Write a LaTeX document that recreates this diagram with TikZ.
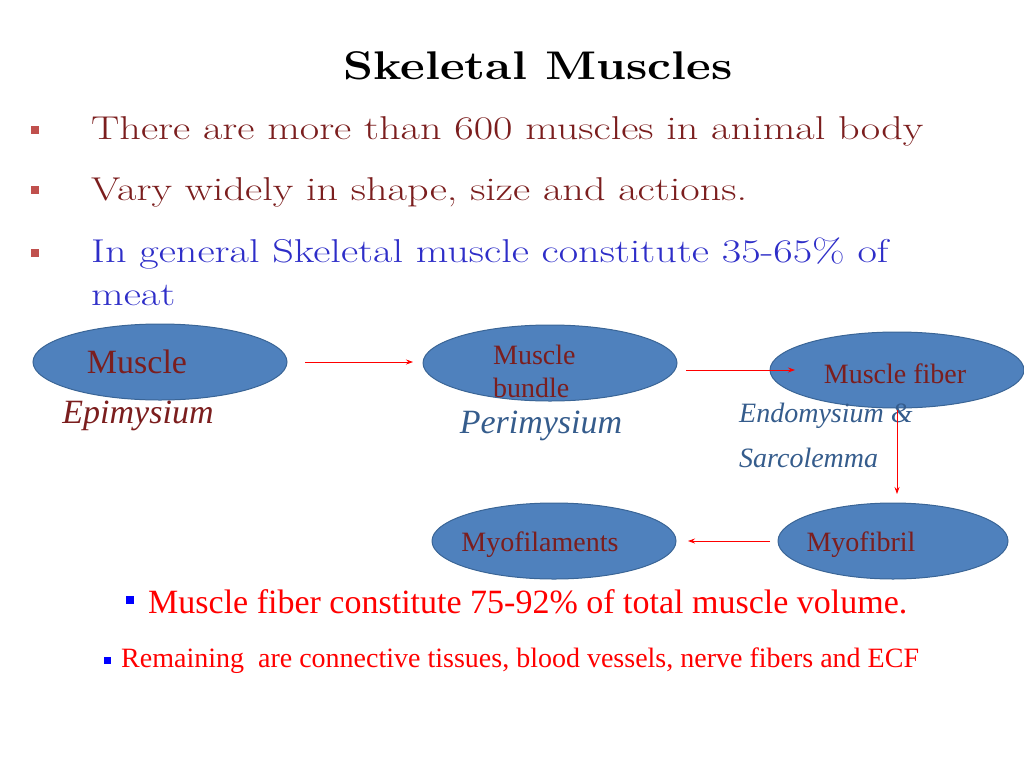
\documentclass[tikz,border=0pt]{standalone}
\usepackage{fontspec}
\setmainfont{Liberation Serif}
\newfontfamily\lmfont{Latin Modern Roman}
\usetikzlibrary{shapes.geometric,arrows.meta}
\definecolor{dred}{HTML}{7B1E1E}
\definecolor{eblue}{HTML}{4F81BD}
\definecolor{eborder}{HTML}{3A6596}
\definecolor{tblue}{HTML}{2E2EC8}
\definecolor{pblue}{HTML}{355C8C}
\definecolor{bsq}{HTML}{C0504D}
\tikzset{
 ell/.style={ellipse,fill=eblue,draw=eborder,line width=1pt,inner sep=0pt},
 arr/.style={draw=red,line width=0.8pt,-{Stealth[length=7pt,width=5pt]}},
 btxt/.style={anchor=west,inner sep=0pt,font=\lmfont\fontsize{33}{36}\selectfont},
 sq/.style={fill=bsq,minimum size=8pt,inner sep=0pt},
}
\newcommand{\wide}[1]{\scalebox{1.28}[1]{#1}}
\begin{document}
\begin{tikzpicture}[x=1pt,y=-1pt]
\useasboundingbox (0,0) rectangle (1024,768);
\node[inner sep=0pt,font=\lmfont\bfseries\fontsize{40}{44}\selectfont] (title) at (538,66) {\scalebox{1.2}[1]{Skeletal Muscles}};
\node[sq] (b1) at (35,130) {};
\node[sq] (b2) at (35,190) {};
\node[sq] (b3) at (35,253) {};
\node[btxt,text=dred] (t1) at (91,131) {\wide{There are more than 600 muscles in animal body}};
\node[btxt,text=dred] (t2) at (91,192) {\wide{Vary widely in shape, size and actions.}};
\node[btxt,text=tblue] (t3) at (91,254) {\wide{In general Skeletal muscle constitute 35-65\% of}};
\node[btxt,text=tblue] (t4) at (91,295) {\wide{meat}};
\node[ell,minimum width=254pt,minimum height=76pt] (m) at (160,362) {};
\node[ell,minimum width=254pt,minimum height=76pt] (mb) at (550,363) {};
\node[ell,minimum width=254pt,minimum height=76pt] (mf) at (897,370) {};
\node[ell,minimum width=244pt,minimum height=76pt] (mfl) at (554,541) {};
\node[ell,minimum width=230pt,minimum height=76pt] (mfb) at (893,541) {};
\node[text=dred,font=\fontsize{34}{36}\selectfont,inner sep=0pt] (lm) at (137,362) {Muscle};
\node[text=dred,font=\fontsize{28}{33}\selectfont,inner sep=0pt,align=left,anchor=west] (lmb) at (493,371) {Muscle\\bundle};
\node[text=dred,font=\fontsize{28}{30}\selectfont,inner sep=0pt] (lmf) at (895,374) {Muscle fiber};
\node[text=dred,font=\fontsize{28}{30}\selectfont,inner sep=0pt] (lmfl) at (540,545) {Myofilaments};
\node[text=dred,font=\fontsize{28}{30}\selectfont,inner sep=0pt] (lmfb) at (861,545) {Myofibril};
\node[text=dred,font=\itshape\fontsize{34}{36}\selectfont,inner sep=0pt] (ep) at (138,416) {Epimysium};
\node[text=pblue,font=\itshape\fontsize{34}{36}\selectfont,inner sep=0pt] (pe) at (541,426) {Perimysium};
\node[text=pblue,font=\itshape\fontsize{28}{30}\selectfont,inner sep=0pt,anchor=west] (en) at (739,416) {Endomysium \&};
\node[text=pblue,font=\itshape\fontsize{28}{30}\selectfont,inner sep=0pt,anchor=west] (sa) at (739,458) {Sarcolemma};
\coordinate (a1s) at (305,362); \coordinate (a1e) at (413,362);
\coordinate (a2s) at (686,370); \coordinate (a2e) at (795,370);
\coordinate (a3s) at (897,410); \coordinate (a3e) at (897,494);
\coordinate (a4s) at (770,541); \coordinate (a4e) at (688,541);
\draw[arr] (a1s) -- (a1e);
\draw[arr] (a2s) -- (a2e);
\draw[arr] (a3s) -- (a3e);
\draw[arr] (a4s) -- (a4e);
\node[fill=blue,minimum size=8pt,inner sep=0pt] (s1) at (130,600) {};
\node[text=red,anchor=west,inner sep=0pt,font=\fontsize{34}{36}\selectfont] (r1) at (148,602) {Muscle fiber constitute 75-92\% of total muscle volume.};
\node[fill=blue,minimum size=7pt,inner sep=0pt] (s2) at (107,660) {};
\node[text=red,anchor=west,inner sep=0pt,font=\fontsize{28}{30}\selectfont] (r2) at (121,661) {Remaining\ \ are connective tissues, blood vessels, nerve fibers and ECF};
\end{tikzpicture}
\end{document}
